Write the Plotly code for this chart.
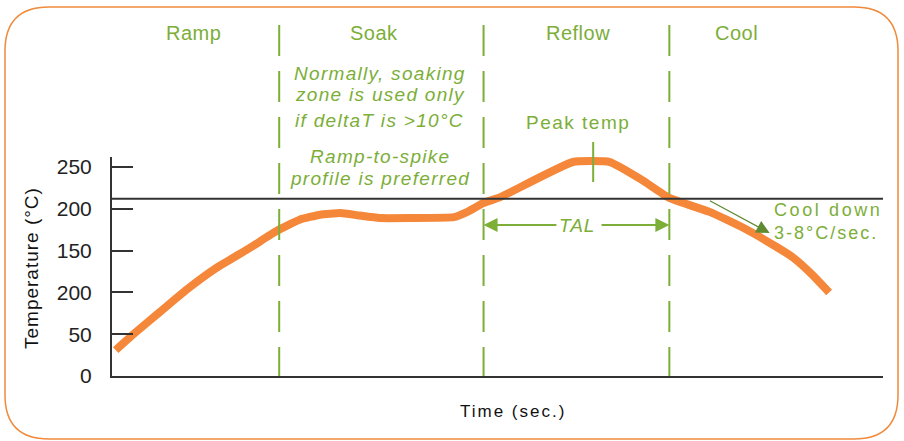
import plotly.graph_objects as go

# Reflow oven temperature profile (time in seconds, temperature in °C)
times = [2, 11, 26, 40, 56, 74, 89, 101, 112, 123, 133, 144, 160, 184, 191, 200,
         209, 248, 268, 285, 300, 322, 340, 358, 367, 377, 386]
temps = [31, 49, 77, 103, 129, 153, 174, 187, 193, 195, 192, 189, 189, 190, 196, 207,
         214, 256, 256, 235, 213, 196, 177, 154, 141, 121, 100]

# Zone boundaries and zone names
zone_edges = [90, 200, 300]
zone_names = ["Ramp", "Soak", "Reflow", "Cool"]
zone_label_x = [44, 141, 251, 336]

# Liquidus reference, peak time, TAL level
liquidus = 212
peak_time = 259
tal_level = 180.6

y_tickvals = [0, 50, 100, 150, 200, 250]
y_ticktext = ["0", "50", "200", "150", "200", "250"]

X_MAX = 415
Y_MAX = 262

GREEN = "#7cae38"
ORANGE = "#f5873a"
DARK = "#333333"
FONT = "Liberation Sans, Arial, sans-serif"

W, H = 904, 441
ML, MR, MT, MB = 112, 21, 157, 65
PW, PH = W - ML - MR, H - MT - MB


def px_x(p):
    return (p - ML) / PW


def px_y(p):
    return (H - MB - p) / PH


def spaced(text, ls):
    return f'<span style="letter-spacing:{ls}px">{text}</span>'


fig = go.Figure()
fig.add_trace(go.Scatter(
    x=times, y=temps, mode="lines",
    line=dict(color=ORANGE, width=8, shape="spline", smoothing=0.4),
    hoverinfo="skip", showlegend=False,
))

shapes = []
# liquidus line
shapes.append(dict(type="line", xref="x", yref="y", x0=0, x1=X_MAX,
                   y0=liquidus, y1=liquidus, line=dict(color=DARK, width=2)))
# zone separators
for xe in zone_edges:
    shapes.append(dict(type="line", xref="x", yref="paper", x0=xe, x1=xe,
                       y0=px_y(25), y1=0,
                       line=dict(color=GREEN, width=2, dash="31px,15px")))
# peak marker
shapes.append(dict(type="line", xref="x", yref="paper", x0=peak_time, x1=peak_time,
                   y0=px_y(182), y1=px_y(142), line=dict(color=GREEN, width=2)))

# rounded frame
l, r, t, b, rr = 5, 898, 7, 439, 44
path = (
    f"M {px_x(l)},{px_y(t + rr)} "
    f"Q {px_x(l)},{px_y(t)} {px_x(l + rr)},{px_y(t)} "
    f"L {px_x(r - rr)},{px_y(t)} "
    f"Q {px_x(r)},{px_y(t)} {px_x(r)},{px_y(t + rr)} "
    f"L {px_x(r)},{px_y(b - rr)} "
    f"Q {px_x(r)},{px_y(b)} {px_x(r - rr)},{px_y(b)} "
    f"L {px_x(l + rr)},{px_y(b)} "
    f"Q {px_x(l)},{px_y(b)} {px_x(l)},{px_y(b - rr)} Z"
)
shapes.append(dict(type="path", xref="paper", yref="paper", path=path,
                   line=dict(color="#f08a3c", width=1.5), layer="below"))

annotations = []


def text(x, y, s, size, color=GREEN, xanchor="center", xref="x"):
    annotations.append(dict(x=x, y=y, xref=xref, yref="paper", text=s,
                            showarrow=False, xanchor=xanchor, yanchor="middle",
                            align="left" if xanchor == "left" else "center",
                            font=dict(family=FONT, size=size, color=color)))


for name, xl in zip(zone_names, zone_label_x):
    text(xl, px_y(33), spaced(name, 0.5), 20)

note_lines = [
    ("Normally, soaking", 74),
    ("zone is used only", 95),
    ("if deltaT is >10°C", 120),
    ("Ramp-to-spike", 156),
    ("profile is preferred", 178),
]
for s, py in note_lines:
    text(144, px_y(py), "<i>" + spaced(s, 1.3) + "</i>", 19)

text(251, px_y(122), spaced("Peak temp", 1.5), 19)
text(250.5, px_y(225), "<i>" + spaced("TAL", 1) + "</i>", 19)
text(355.5, px_y(221), spaced("Cool down", 2.6) + "<br>" + spaced("3-8°C/sec.", 2.0),
     18, xanchor="left")

# axis titles
text(216, px_y(411), spaced("Time (sec.)", 2), 17, color="#111111")
annotations.append(dict(x=px_x(31), y=px_y(268), xref="paper", yref="paper",
                        text=spaced("Temperature (°C)", 1), showarrow=False,
                        textangle=-90, xanchor="center", yanchor="middle",
                        font=dict(family=FONT, size=19, color="#111111")))

# TAL double arrow and cool-down arrow
for tip, tail in [(zone_edges[1], 240), (zone_edges[2], 262.7)]:
    annotations.append(dict(x=tip, y=tal_level, ax=tail, ay=tal_level,
                            xref="x", yref="y", axref="x", ayref="y", text="",
                            showarrow=True, arrowhead=2, arrowsize=1.4,
                            arrowwidth=2, arrowcolor=GREEN, standoff=0))
annotations.append(dict(x=354, y=171, ax=321, ay=210.6,
                        xref="x", yref="y", axref="x", ayref="y", text="",
                        showarrow=True, arrowhead=2, arrowsize=2.2,
                        arrowwidth=1.2, arrowcolor="#5f8a30", standoff=0))

fig.update_layout(
    width=W, height=H, autosize=False,
    margin=dict(l=ML, r=MR, t=MT, b=MB, pad=0),
    paper_bgcolor="white", plot_bgcolor="white",
    shapes=shapes, annotations=annotations,
    font=dict(family=FONT),
    xaxis=dict(range=[0, X_MAX], showline=True, linecolor=DARK, linewidth=2,
               showticklabels=False, ticks="", showgrid=False, zeroline=False,
               fixedrange=True),
    yaxis=dict(range=[0, Y_MAX], showline=True, linecolor=DARK, linewidth=2,
               ticks="inside", ticklen=21, tickwidth=2, tickcolor=DARK,
               tickvals=y_tickvals, ticktext=y_ticktext,
               tickfont=dict(family=FONT, size=21, color="#222222"),
               ticklabelstandoff=14,
               showgrid=False, zeroline=False, fixedrange=True),
)

fig.write_html("out.html", config={"displayModeBar": False})
